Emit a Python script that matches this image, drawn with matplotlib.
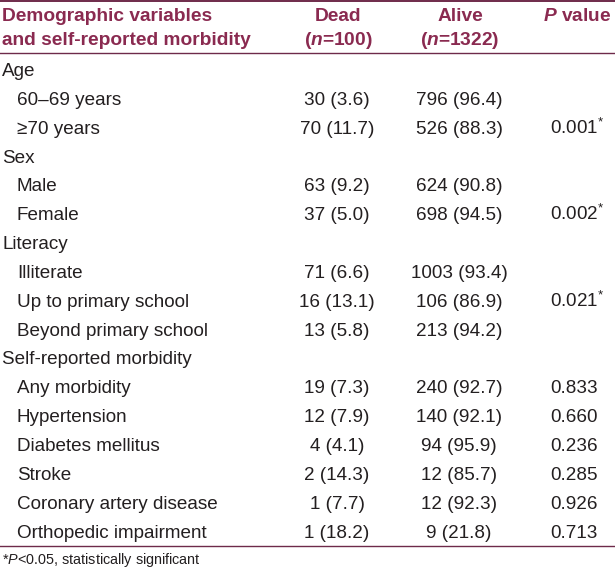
import matplotlib
matplotlib.use('Agg')
import matplotlib.pyplot as plt

plt.rcParams['font.family'] = ['Liberation Sans', 'DejaVu Sans']
plt.rcParams['mathtext.fontset'] = 'custom'
plt.rcParams['mathtext.rm'] = 'Liberation Sans'
plt.rcParams['mathtext.it'] = 'Liberation Sans:italic'
plt.rcParams['mathtext.bf'] = 'Liberation Sans:bold'
plt.rcParams['mathtext.bfit'] = 'Liberation Sans:italic:bold'

# table content
header_left = ['Demographic variables', 'and self-reported morbidity']
header_dead = ['Dead', '($\\mathbfit{n}$=100)']
header_alive = ['Alive', '($\\mathbfit{n}$=1322)']
header_p = '$\\mathbfit{P}$ value'

labels = ['Age', '60\u201369 years', '\u226570 years',
          'Sex', 'Male', 'Female',
          'Literacy', 'Illiterate', 'Up to primary school', 'Beyond primary school',
          'Self-reported morbidity', 'Any morbidity', 'Hypertension',
          'Diabetes mellitus', 'Stroke', 'Coronary artery disease',
          'Orthopedic impairment']
is_group = [True, False, False, True, False, False, True, False, False, False,
            True, False, False, False, False, False, False]
dead = ['', '30 (3.6)', '70 (11.7)', '', '63 (9.2)', '37 (5.0)', '',
        '71 (6.6)', '16 (13.1)', '13 (5.8)', '', '19 (7.3)', '12 (7.9)',
        '4 (4.1)', '2 (14.3)', '1 (7.7)', '1 (18.2)']
alive = ['', '796 (96.4)', '526 (88.3)', '', '624 (90.8)', '698 (94.5)', '',
         '1003 (93.4)', '106 (86.9)', '213 (94.2)', '', '240 (92.7)', '140 (92.1)',
         '94 (95.9)', '12 (85.7)', '12 (92.3)', '9 (21.8)']
pvals = ['', '', '0.001*', '', '', '0.002*', '', '', '0.021*', '', '',
         '0.833', '0.660', '0.236', '0.285', '0.926', '0.713']
footnote = '*$\\it{P}$<0.05, statistically significant'

W, H = 615, 571
fig = plt.figure(figsize=(W / 100, H / 100), dpi=100)
ax = fig.add_axes([0, 0, 1, 1])
ax.set_xlim(0, W)
ax.set_ylim(H, 0)
ax.axis('off')

head_color = '#8a2a50'
line_color = '#6e2a4a'
txt_color = '#231f20'
fs = 13.6
fs_head = 13.8

# rules
ax.plot([0, W], [1, 1], color=line_color, lw=1.4)
ax.plot([0, W], [53, 53], color=line_color, lw=1.0)
ax.plot([0, W], [546, 546], color=line_color, lw=1.0)

# header
for i, y in enumerate([21, 45]):
    ax.text(2, y, header_left[i], ha='left', va='baseline', fontsize=fs_head,
            fontweight='bold', color=head_color)
    ax.text(338, y, header_dead[i], ha='center', va='baseline', fontsize=fs_head,
            fontweight='bold', color=head_color)
    ax.text(460, y, header_alive[i], ha='center', va='baseline', fontsize=fs_head,
            fontweight='bold', color=head_color)
ax.text(543, 21, header_p, ha='left', va='baseline', fontsize=fs_head,
        fontweight='bold', color=head_color)

# body rows
y0, dy = 76, 28.85
for i, lab in enumerate(labels):
    y = y0 + i * dy
    x = 2 if is_group[i] else 17
    ax.text(x, y, lab, ha='left', va='baseline', fontsize=fs, color=txt_color)
    ax.text(337, y, dead[i], ha='center', va='baseline', fontsize=fs, color=txt_color)
    ax.text(459, y, alive[i], ha='center', va='baseline', fontsize=fs, color=txt_color)
    p = pvals[i]
    if p.endswith('*'):
        ax.text(550, y, p[:-1] + '$^{*}$', ha='left', va='baseline',
                fontsize=fs, color=txt_color)
    elif p:
        ax.text(550, y, p, ha='left', va='baseline', fontsize=fs, color=txt_color)

ax.text(2, 564, footnote, ha='left', va='baseline', fontsize=10.4, color=txt_color)

fig.savefig('out.png', dpi=100)
